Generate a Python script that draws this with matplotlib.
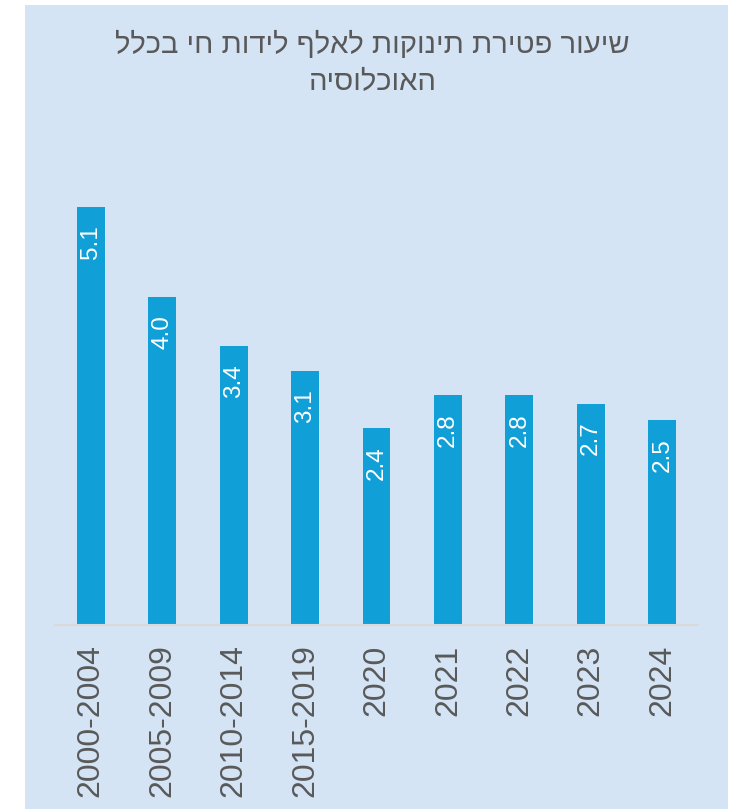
import matplotlib.pyplot as plt
from matplotlib.patches import Rectangle

# data
periods = ["2000-2004", "2005-2009", "2010-2014", "2015-2019",
           "2020", "2021", "2022", "2023", "2024"]
rates = [5.1, 4.0, 3.4, 3.1, 2.4, 2.8, 2.8, 2.7, 2.5]
title_lines = ["שיעור פטירת תינוקות לאלף לידות חי בכלל", "האוכלוסיה"]

BG = "#d4e4f5"
BAR = "#109fd7"
TEXT = "#595959"

plt.rcParams["font.family"] = ["Liberation Sans", "DejaVu Sans"]

fig = plt.figure(figsize=(7.31, 8.09), dpi=100)
fig.patch.set_facecolor("white")
panel = Rectangle((25 / 731, 0), 703 / 731, 1 - 5 / 809,
                  transform=fig.transFigure, facecolor=BG,
                  edgecolor="none", zorder=-10)
fig.add_artist(panel)

ax = fig.add_axes([55 / 731, 1 - 625 / 809, 643 / 731, 492 / 809])
ax.set_facecolor("none")
ax.set_zorder(1)

x = range(len(periods))
ax.bar(x, rates, width=0.39, color=BAR, zorder=2)
ax.set_xlim(-0.5, len(periods) - 0.5)
ax.set_ylim(0, 6)

for i, v in zip(x, rates):
    ax.annotate(f"{v:.1f}", xy=(i, v), xytext=(0, -13), textcoords="offset points",
                rotation=90, ha="center", va="top", color="white", fontsize=17.5)

ax.set_xticks(list(x))
ax.set_xticklabels(periods, rotation=90, color=TEXT, fontsize=23, va="top")
ax.tick_params(axis="x", length=0, pad=14)
ax.set_yticks([])
for s in ["top", "right", "left"]:
    ax.spines[s].set_visible(False)
ax.spines["bottom"].set_color("#d9d9d9")
ax.spines["bottom"].set_linewidth(1.5)

# matplotlib has no bidi support, so reverse the Hebrew lines
fig.text(0.51, 1 - 45 / 809, title_lines[0][::-1], ha="center", va="center",
         fontsize=21, color=TEXT)
fig.text(0.51, 1 - 82 / 809, title_lines[1][::-1], ha="center", va="center",
         fontsize=21, color=TEXT)

fig.savefig("out.png", dpi=100)
